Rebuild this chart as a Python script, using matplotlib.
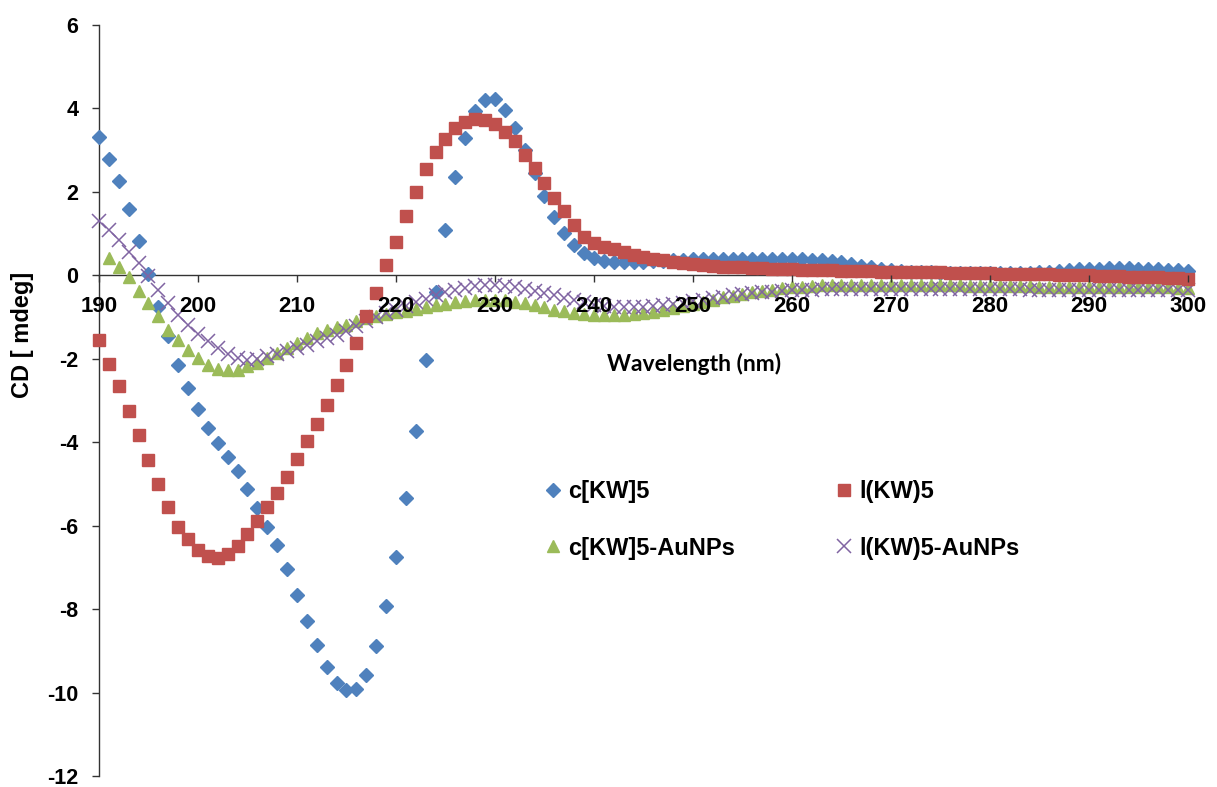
import matplotlib
matplotlib.use("Agg")
import matplotlib.pyplot as plt
import numpy as np

plt.rcParams['axes.unicode_minus'] = False

# wavelength axis, 1 nm steps
wavelength = np.arange(190, 301)

# c[KW]5
c_kw5 = [3.32, 2.80, 2.27, 1.60, 0.82, 0.03, -0.75, -1.45, -2.15, -2.70,
         -3.20, -3.65, -4.02, -4.36, -4.69, -5.13, -5.58, -6.03, -6.47, -7.05,
         -7.67, -8.29, -8.85, -9.39, -9.76, -9.94, -9.92, -9.58, -8.89, -7.93,
         -6.75, -5.33, -3.72, -2.02, -0.40, 1.09, 2.35, 3.29, 3.93, 4.21,
         4.23, 3.97, 3.53, 3.01, 2.45, 1.89, 1.41, 1.01, 0.73, 0.53,
         0.41, 0.35, 0.33, 0.32, 0.32, 0.33, 0.34, 0.35, 0.36, 0.37,
         0.38, 0.39, 0.39, 0.40, 0.40, 0.40, 0.40, 0.40, 0.40, 0.39,
         0.39, 0.38, 0.37, 0.36, 0.34, 0.31, 0.27, 0.23, 0.19, 0.16,
         0.13, 0.11, 0.09, 0.08, 0.07, 0.06, 0.06, 0.05, 0.05, 0.05,
         0.05, 0.05, 0.05, 0.05, 0.06, 0.07, 0.09, 0.11, 0.13, 0.14,
         0.15, 0.16, 0.17, 0.17, 0.17, 0.16, 0.15, 0.14, 0.13, 0.12,
         0.10]

# l(KW)5
l_kw5 = [-1.56, -2.12, -2.66, -3.26, -3.83, -4.43, -5.00, -5.56, -6.02, -6.32,
         -6.58, -6.73, -6.77, -6.68, -6.49, -6.19, -5.88, -5.56, -5.21, -4.84,
         -4.40, -3.98, -3.56, -3.10, -2.62, -2.14, -1.62, -0.98, -0.42, 0.24,
         0.81, 1.43, 1.99, 2.55, 2.95, 3.27, 3.53, 3.67, 3.75, 3.72,
         3.63, 3.43, 3.21, 2.89, 2.57, 2.21, 1.85, 1.53, 1.21, 0.93,
         0.77, 0.69, 0.62, 0.55, 0.49, 0.44, 0.40, 0.36, 0.33, 0.30,
         0.27, 0.25, 0.23, 0.21, 0.20, 0.19, 0.18, 0.17, 0.16, 0.15,
         0.14, 0.13, 0.13, 0.12, 0.12, 0.11, 0.11, 0.10, 0.10, 0.09,
         0.09, 0.08, 0.08, 0.07, 0.07, 0.07, 0.06, 0.06, 0.06, 0.05,
         0.05, 0.04, 0.04, 0.03, 0.03, 0.02, 0.02, 0.01, 0.01, 0.00,
         0.00, -0.01, -0.01, -0.02, -0.03, -0.03, -0.04, -0.05, -0.06, -0.07,
         -0.08]

# c[KW]5-AuNPs (no point at 190)
c_kw5_au = [np.nan, 0.41, 0.20, -0.04, -0.37, -0.66, -0.98, -1.30, -1.54, -1.78,
            -1.98, -2.14, -2.24, -2.28, -2.26, -2.18, -2.10, -1.98, -1.86, -1.74,
            -1.62, -1.50, -1.38, -1.30, -1.25, -1.18, -1.10, -1.02, -0.97, -0.93,
            -0.89, -0.85, -0.80, -0.76, -0.72, -0.68, -0.65, -0.62, -0.60, -0.58,
            -0.58, -0.60, -0.63, -0.67, -0.72, -0.77, -0.82, -0.86, -0.90, -0.93,
            -0.95, -0.96, -0.96, -0.95, -0.93, -0.91, -0.88, -0.84, -0.79, -0.74,
            -0.68, -0.63, -0.58, -0.53, -0.49, -0.45, -0.41, -0.37, -0.34, -0.31,
            -0.29, -0.27, -0.25, -0.24, -0.23, -0.22, -0.22, -0.22, -0.22, -0.22,
            -0.22, -0.22, -0.23, -0.23, -0.23, -0.24, -0.24, -0.24, -0.25, -0.25,
            -0.25, -0.26, -0.26, -0.26, -0.26, -0.27, -0.27, -0.27, -0.27, -0.27,
            -0.27, -0.28, -0.28, -0.28, -0.28, -0.28, -0.29, -0.29, -0.29, -0.30,
            -0.30]

# l(KW)5-AuNPs
l_kw5_au = [1.31, 1.09, 0.85, 0.57, 0.30, -0.02, -0.34, -0.66, -0.94, -1.20,
            -1.40, -1.57, -1.74, -1.88, -1.98, -2.02, -2.00, -1.94, -1.88, -1.81,
            -1.74, -1.66, -1.58, -1.50, -1.42, -1.33, -1.22, -1.10, -0.99, -0.90,
            -0.82, -0.74, -0.65, -0.56, -0.48, -0.41, -0.35, -0.30, -0.26, -0.24,
            -0.23, -0.25, -0.28, -0.32, -0.37, -0.42, -0.48, -0.54, -0.60, -0.65,
            -0.70, -0.73, -0.75, -0.76, -0.76, -0.75, -0.74, -0.72, -0.69, -0.66,
            -0.62, -0.58, -0.54, -0.51, -0.48, -0.45, -0.43, -0.41, -0.39, -0.37,
            -0.36, -0.35, -0.34, -0.33, -0.33, -0.32, -0.32, -0.32, -0.32, -0.32,
            -0.32, -0.32, -0.32, -0.32, -0.32, -0.32, -0.32, -0.33, -0.33, -0.33,
            -0.33, -0.33, -0.33, -0.33, -0.34, -0.34, -0.34, -0.34, -0.34, -0.34,
            -0.34, -0.35, -0.35, -0.35, -0.35, -0.35, -0.35, -0.36, -0.36, -0.36,
            -0.36]

xticks = list(range(190, 301, 10))
yticks = list(range(-12, 7, 2))

fig = plt.figure(figsize=(12.17, 7.87), dpi=100)
ax = fig.add_axes([99 / 1217, 1 - 776 / 787, (1188 - 99) / 1217, (776 - 25) / 787])

h1, = ax.plot(wavelength, c_kw5, ls='none', marker='D', ms=7.4, color='#4F81BD',
              mec='#4F81BD', clip_on=False, zorder=3, label='c[KW]5')
h3, = ax.plot(wavelength, c_kw5_au, ls='none', marker='^', ms=8.8, color='#9BBB59',
              mec='#9BBB59', clip_on=False, zorder=4, label='c[KW]5-AuNPs')
h4, = ax.plot(wavelength, l_kw5_au, ls='none', marker='x', ms=9.5, mew=1.1, color='#8064A2',
              clip_on=False, zorder=5, label='l(KW)5-AuNPs')
h2, = ax.plot(wavelength, l_kw5, ls='none', marker='s', ms=8.4, color='#C0504D',
              mec='#C0504D', clip_on=False, zorder=6, label='l(KW)5')

ax.set_xlim(190, 300)
ax.set_ylim(-12, 6)
ax.spines['top'].set_visible(False)
ax.spines['right'].set_visible(False)
ax.spines['bottom'].set_position(('data', 0))
for s in ('left', 'bottom'):
    ax.spines[s].set_color('#333333')
    ax.spines[s].set_linewidth(1.0)
ax.xaxis.set_zorder(10)

ax.set_xticks(xticks)
ax.set_yticks(yticks)
ax.tick_params(axis='both', direction='out', length=5, width=1.0, color='#333333')
ax.tick_params(axis='x', pad=10, labelsize=16)
ax.tick_params(axis='y', pad=10, labelsize=15.5)
for lab in ax.get_xticklabels() + ax.get_yticklabels():
    lab.set_fontfamily('Liberation Sans')
    lab.set_fontweight('bold')

fig.text(694 / 1217, 1 - 364 / 787, 'Wavelength (nm)', ha='center', va='center',
         fontsize=16.5, fontweight='bold', family='Lato')
fig.text(22 / 1217, 1 - 335 / 787, 'CD [ mdeg]', ha='center', va='center', rotation=90,
         fontsize=17, fontweight='bold', family='Liberation Sans')

leg = ax.legend(handles=[h1, h3, h2, h4], ncol=2, loc='upper left',
                bbox_to_anchor=(542 / 1217, 1 - 480 / 787), bbox_transform=fig.transFigure,
                frameon=False, handlelength=0.9, handletextpad=0.19, columnspacing=4.2,
                labelspacing=1.42, borderpad=0, borderaxespad=0,
                prop={'family': 'Liberation Sans', 'weight': 'bold', 'size': 17})

fig.savefig('out.png', dpi=100)
